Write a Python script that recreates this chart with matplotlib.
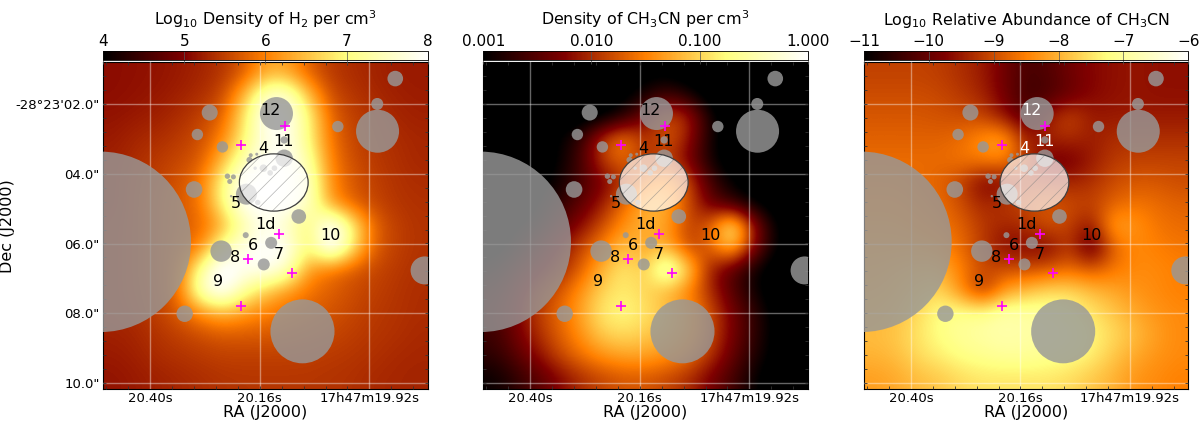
import numpy as np
import matplotlib
matplotlib.use("Agg")
import matplotlib.pyplot as plt
from matplotlib.patches import Circle, Ellipse
from matplotlib.ticker import FixedLocator

plt.rcParams["hatch.linewidth"] = 0.5

# map values on a coarse 15 x 15 grid (rows top to bottom)
h2_density = [
    [5.10, 5.12, 5.15, 5.20, 5.28, 5.40, 5.70, 6.30, 6.30, 5.75, 5.45, 5.35, 5.28, 5.22, 5.20],
    [5.10, 5.14, 5.18, 5.25, 5.35, 5.55, 6.40, 7.60, 7.70, 6.50, 5.60, 5.42, 5.32, 5.25, 5.22],
    [5.15, 5.20, 5.25, 5.35, 5.50, 5.75, 6.80, 8.00, 8.00, 7.00, 5.80, 5.50, 5.40, 5.30, 5.25],
    [5.20, 5.30, 5.35, 5.45, 5.60, 6.00, 6.90, 7.80, 7.90, 7.00, 5.90, 5.55, 5.42, 5.35, 5.30],
    [5.25, 5.35, 5.45, 5.55, 5.70, 6.40, 7.40, 7.90, 8.00, 7.30, 6.00, 5.60, 5.45, 5.38, 5.30],
    [5.25, 5.40, 5.50, 5.65, 5.90, 7.00, 8.00, 8.00, 8.00, 7.60, 6.10, 5.70, 5.50, 5.40, 5.35],
    [5.25, 5.40, 5.55, 5.70, 5.90, 7.00, 8.00, 8.00, 8.00, 7.60, 6.20, 5.75, 5.55, 5.42, 5.38],
    [5.30, 5.40, 5.55, 5.70, 5.80, 6.30, 7.30, 7.90, 7.50, 6.80, 8.30, 7.00, 5.80, 5.50, 5.40],
    [5.30, 5.40, 5.55, 5.75, 6.00, 7.30, 7.80, 8.00, 8.00, 6.80, 8.30, 6.90, 5.75, 5.50, 5.40],
    [5.30, 5.40, 5.55, 5.80, 7.20, 8.20, 7.90, 8.00, 7.60, 6.20, 5.90, 5.70, 5.55, 5.45, 5.38],
    [5.30, 5.40, 5.50, 5.90, 7.50, 8.20, 7.20, 6.60, 6.20, 5.90, 5.75, 5.60, 5.50, 5.42, 5.35],
    [5.30, 5.35, 5.50, 5.70, 6.10, 6.40, 6.20, 6.00, 5.85, 5.75, 5.65, 5.55, 5.45, 5.40, 5.35],
    [5.25, 5.30, 5.40, 5.50, 5.60, 5.70, 5.70, 5.70, 5.65, 5.60, 5.55, 5.48, 5.42, 5.38, 5.32],
    [5.20, 5.25, 5.35, 5.40, 5.45, 5.50, 5.50, 5.50, 5.50, 5.48, 5.45, 5.42, 5.38, 5.32, 5.30],
    [5.15, 5.20, 5.25, 5.30, 5.35, 5.40, 5.42, 5.42, 5.42, 5.42, 5.40, 5.38, 5.32, 5.30, 5.28],
]
ch3cn_density = [
    [-3.2, -3.2, -3.2, -3.2, -3.2, -3.2, -3.2, -3.1, -3.1, -3.2, -3.2, -3.2, -3.2, -3.2, -3.2],
    [-3.2, -3.2, -3.2, -3.2, -3.2, -3.2, -3.1, -2.85, -2.6, -2.85, -3.2, -3.2, -3.2, -3.2, -3.2],
    [-3.2, -3.2, -3.2, -3.2, -3.2, -3.1, -2.8, -2.3, -1.8, -2.0, -2.9, -3.2, -3.2, -3.2, -3.2],
    [-3.2, -3.2, -3.2, -3.0, -2.7, -1.9, -1.45, -2.0, -1.7, -2.1, -2.9, -3.2, -3.2, -3.2, -3.2],
    [-3.2, -3.2, -3.2, -3.0, -2.6, -1.9, -1.6, -2.0, -1.9, -2.3, -2.9, -3.2, -3.2, -3.2, -3.2],
    [-3.2, -3.2, -3.1, -2.9, -2.6, -2.3, -2.0, -1.6, -1.4, -1.8, -2.6, -3.0, -3.2, -3.2, -3.2],
    [-3.2, -3.2, -3.0, -2.75, -2.45, -2.1, -1.6, -1.2, -1.2, -1.8, -2.4, -2.7, -3.0, -3.2, -3.2],
    [-3.2, -3.0, -2.9, -2.5, -2.2, -1.8, -1.4, -1.2, -1.3, -1.9, -1.7, -0.6, -2.1, -3.0, -3.2],
    [-3.1, -2.9, -2.55, -2.2, -1.85, -1.5, -1.1, -1.3, -1.2, -1.9, -1.7, -1.0, -2.2, -3.0, -3.2],
    [-2.9, -2.6, -2.3, -2.05, -1.7, -1.2, -0.85, -1.1, -0.1, -1.0, -2.1, -2.5, -2.9, -3.2, -3.2],
    [-2.7, -2.4, -2.0, -1.75, -1.4, -1.0, -0.85, -1.0, -1.2, -1.5, -2.0, -2.5, -2.9, -3.2, -3.2],
    [-2.6, -2.3, -1.9, -1.65, -1.3, -0.85, -0.75, -0.9, -1.1, -1.35, -1.8, -2.3, -2.7, -3.1, -3.2],
    [-2.65, -2.35, -2.0, -1.7, -1.4, -1.05, -0.95, -1.05, -1.2, -1.4, -1.8, -2.3, -2.7, -3.1, -3.2],
    [-2.75, -2.5, -2.2, -1.85, -1.6, -1.4, -1.3, -1.3, -1.4, -1.6, -1.95, -2.4, -2.8, -3.1, -3.2],
    [-2.95, -2.75, -2.5, -2.25, -2.0, -1.85, -1.75, -1.75, -1.85, -2.0, -2.3, -2.6, -2.95, -3.2, -3.2],
]
abundance = [
    [-9.1, -9.1, -9.1, -9.15, -9.3, -9.5, -9.9, -10.3, -10.2, -9.9, -9.7, -9.6, -9.55, -9.6, -9.6],
    [-9.0, -9.0, -9.0, -9.05, -9.2, -9.4, -9.9, -10.4, -10.3, -10.0, -9.7, -9.6, -9.55, -9.6, -9.6],
    [-8.9, -8.9, -8.9, -8.95, -9.0, -9.1, -9.6, -10.2, -9.5, -9.0, -9.5, -9.5, -9.5, -9.5, -9.5],
    [-8.8, -8.8, -8.8, -8.8, -8.7, -8.3, -8.1, -9.5, -9.4, -9.3, -9.5, -9.3, -9.3, -9.3, -9.3],
    [-8.7, -8.7, -8.7, -8.7, -8.6, -8.5, -8.4, -9.2, -9.9, -9.9, -9.5, -9.2, -9.1, -9.1, -9.1],
    [-8.6, -8.6, -8.7, -8.8, -9.1, -9.8, -9.7, -9.4, -9.4, -9.4, -9.3, -9.0, -8.9, -8.9, -9.0],
    [-8.5, -8.5, -8.6, -8.7, -9.0, -9.4, -9.2, -9.0, -8.9, -9.0, -9.1, -8.8, -8.6, -8.7, -8.8],
    [-8.4, -8.4, -8.5, -8.6, -8.8, -9.2, -9.4, -9.3, -8.9, -9.1, -9.6, -8.1, -8.3, -8.6, -8.7],
    [-8.3, -8.3, -8.3, -8.4, -8.7, -9.2, -9.7, -9.7, -9.8, -9.1, -10.3, -8.8, -8.4, -8.5, -8.6],
    [-8.2, -8.1, -8.0, -8.0, -8.5, -9.0, -9.0, -9.0, -8.9, -8.7, -8.9, -8.6, -8.4, -8.4, -8.5],
    [-8.1, -8.0, -7.8, -7.6, -8.4, -9.4, -8.2, -7.9, -7.6, -7.6, -7.9, -8.1, -8.3, -8.4, -8.5],
    [-8.0, -7.9, -7.6, -7.2, -7.1, -7.1, -6.8, -6.9, -7.0, -7.2, -7.5, -7.8, -8.1, -8.3, -8.4],
    [-7.9, -7.8, -7.5, -7.2, -7.0, -6.9, -6.8, -6.9, -6.9, -7.0, -7.3, -7.6, -7.9, -8.2, -8.4],
    [-8.0, -7.9, -7.6, -7.4, -7.2, -7.1, -7.0, -7.0, -7.1, -7.2, -7.4, -7.8, -8.1, -8.3, -8.4],
    [-8.2, -8.1, -7.9, -7.8, -7.6, -7.5, -7.5, -7.5, -7.5, -7.6, -7.8, -8.0, -8.3, -8.4, -8.5],
]

# map coordinates run 0-324 across and 0-327 down
circle_x = [-2.7, 199, 274, 173, 291.7, 273.7, 234.3, 106.3, 94, 119, 180.7, 180.7, 90.7, 143,
            195.3, 142.3, 167.7, 117.7, 160.3, 321, 81.3, 124, 130, 126.3, 127.7, 147.3, 153.3,
            146, 160, 166.7, 171, 151.7, 154.3]
circle_y = [179.7, 269.3, 69, 51.3, 16.3, 41.7, 64.3, 50.3, 72.3, 84.7, 77.7, 96, 127.3, 132,
            154.3, 173, 180.7, 189, 202.3, 208.3, 251.7, 114, 114.7, 119.3, 134, 93, 92,
            97.7, 106, 110.7, 106, 106, 140.3]
circle_r = [90.3, 32, 21.5, 16.5, 7.8, 6, 5.7, 8, 5.7, 5.7, 3.7, 8.7, 8.3, 10.5,
            7.3, 3, 6, 10.7, 6, 14, 8.2, 2.7, 2.5, 2.5, 1.2, 2, 1.5,
            3, 3.8, 2.8, 2.8, 1.7, 2.7]

cross_x = [181.3, 138, 175.7, 145, 188.7, 137.7]
cross_y = [63.7, 82.7, 172.3, 196.7, 210.7, 243.7]

source_names = ["12", "11", "4", "5", "1d", "10", "6", "7", "8", "9"]
source_x = [167.3, 180, 160, 132.7, 162, 227.3, 149.7, 175.3, 131.7, 115]
source_y = [48.7, 79, 86, 141.7, 162.3, 173, 183.3, 192.7, 195.3, 219.3]

ra_ticks = [46.8, 156.2, 265.8]
ra_labels = ["20.40s", "20.16s", "17h47m19.92s"]
dec_ticks = [41.7, 111.7, 181.7, 251.3, 321]
dec_labels = ["-28°23'02.0\"", "04.0\"", "06.0\"", "08.0\"", "10.0\""]

panels = [
    (h2_density, 4, 8, [4, 5, 6, 7, 8], ["4", "5", "6", "7", "8"],
     r"Log$_{10}$ Density of H$_2$ per cm$^3$", 103.3, []),
    (ch3cn_density, -3, 0, [-3, -2, -1, 0], ["0.001", "0.010", "0.100", "1.000"],
     r"Density of CH$_3$CN per cm$^3$", 483.3, []),
    (abundance, -11, -6, [-11, -10, -9, -8, -7, -6],
     ["\u221211", "\u221210", "\u22129", "\u22128", "\u22127", "\u22126"],
     r"Log$_{10}$ Relative Abundance of CH$_3$CN", 864, ["12", "11", "4"]),
]

W, H = 1200.0, 422.0


def main():
    fig = plt.figure(figsize=(12, 4.22), dpi=100)

    for i, (grid, vmin, vmax, cticks, clabels, title, left, white_names) in enumerate(panels):
        ax = fig.add_axes([left / W, 1 - 389 / H, 324.3 / W, 326.7 / H])
        im = ax.imshow(grid, cmap="afmhot", vmin=vmin, vmax=vmax, extent=[0, 324, 327, 0],
                       interpolation="bicubic", interpolation_stage="data", aspect="auto")

        for x, y, r in zip(circle_x, circle_y, circle_r):
            ax.add_patch(Circle((x, y), r, fc="#989898", ec="none", alpha=0.82, zorder=3))

        ax.add_patch(Ellipse((170.3, 120.3), 68.7, 57.3, fc="white", ec="none", alpha=0.7, zorder=4))
        ax.add_patch(Ellipse((170.3, 120.3), 68.7, 57.3, fc="none", ec="#808080", lw=0,
                             hatch="//", alpha=0.6, zorder=4))
        ax.add_patch(Ellipse((170.3, 120.3), 68.7, 57.3, fc="none", ec="#404040", lw=0.9, zorder=4))

        ax.plot(cross_x, cross_y, "+", color="#ff00ff", ms=7.5, mew=1.2, zorder=6)

        for name, x, y in zip(source_names, source_x, source_y):
            color = "white" if name in white_names else "black"
            ax.text(x, y, name, color=color, fontsize=11.5, ha="center", va="center", zorder=7)

        ax.set_xlim(0, 324)
        ax.set_ylim(327, 0)
        ax.set_xticks(ra_ticks)
        ax.set_xticklabels(ra_labels, fontsize=9.5)
        ax.set_yticks(dec_ticks)
        if i == 0:
            ax.set_yticklabels(dec_labels, fontsize=9.5)
            ax.set_ylabel("Dec (J2000)", fontsize=11.5)
            ax.yaxis.set_label_coords(-0.272, 0.5)
        else:
            ax.set_yticklabels([])
        ax.set_xlabel("RA (J2000)", fontsize=11.5, labelpad=0)
        ax.grid(True, color="white", alpha=0.4, lw=1)
        ax.set_axisbelow(False)

        # minor ticks sit every fifth of a major step
        ax.xaxis.set_minor_locator(FixedLocator(np.arange(3, 324, 21.9)))
        ax.yaxis.set_minor_locator(FixedLocator(np.arange(13.7, 327, 13.97)))
        ax.tick_params(which="both", direction="in", top=True, right=True, color="#333333", width=0.6)
        ax.tick_params(which="major", length=0, pad=2.5)
        ax.tick_params(which="minor", length=2.5)

        cax = fig.add_axes([left / W, 1 - 59.7 / H, 324.3 / W, 9 / H])
        cb = fig.colorbar(im, cax=cax, orientation="horizontal")
        cb.set_ticks(cticks)
        cb.set_ticklabels(clabels)
        cax.xaxis.set_ticks_position("top")
        cax.xaxis.set_label_position("top")
        cax.tick_params(direction="in", length=9, width=0.5, color="#555555", labelsize=11, pad=1.5)
        cb.set_label(title, fontsize=11.4, labelpad=6)
        cb.outline.set_linewidth(0.6)

    fig.savefig("out.png", dpi=100)
    plt.close(fig)


if __name__ == "__main__":
    main()
